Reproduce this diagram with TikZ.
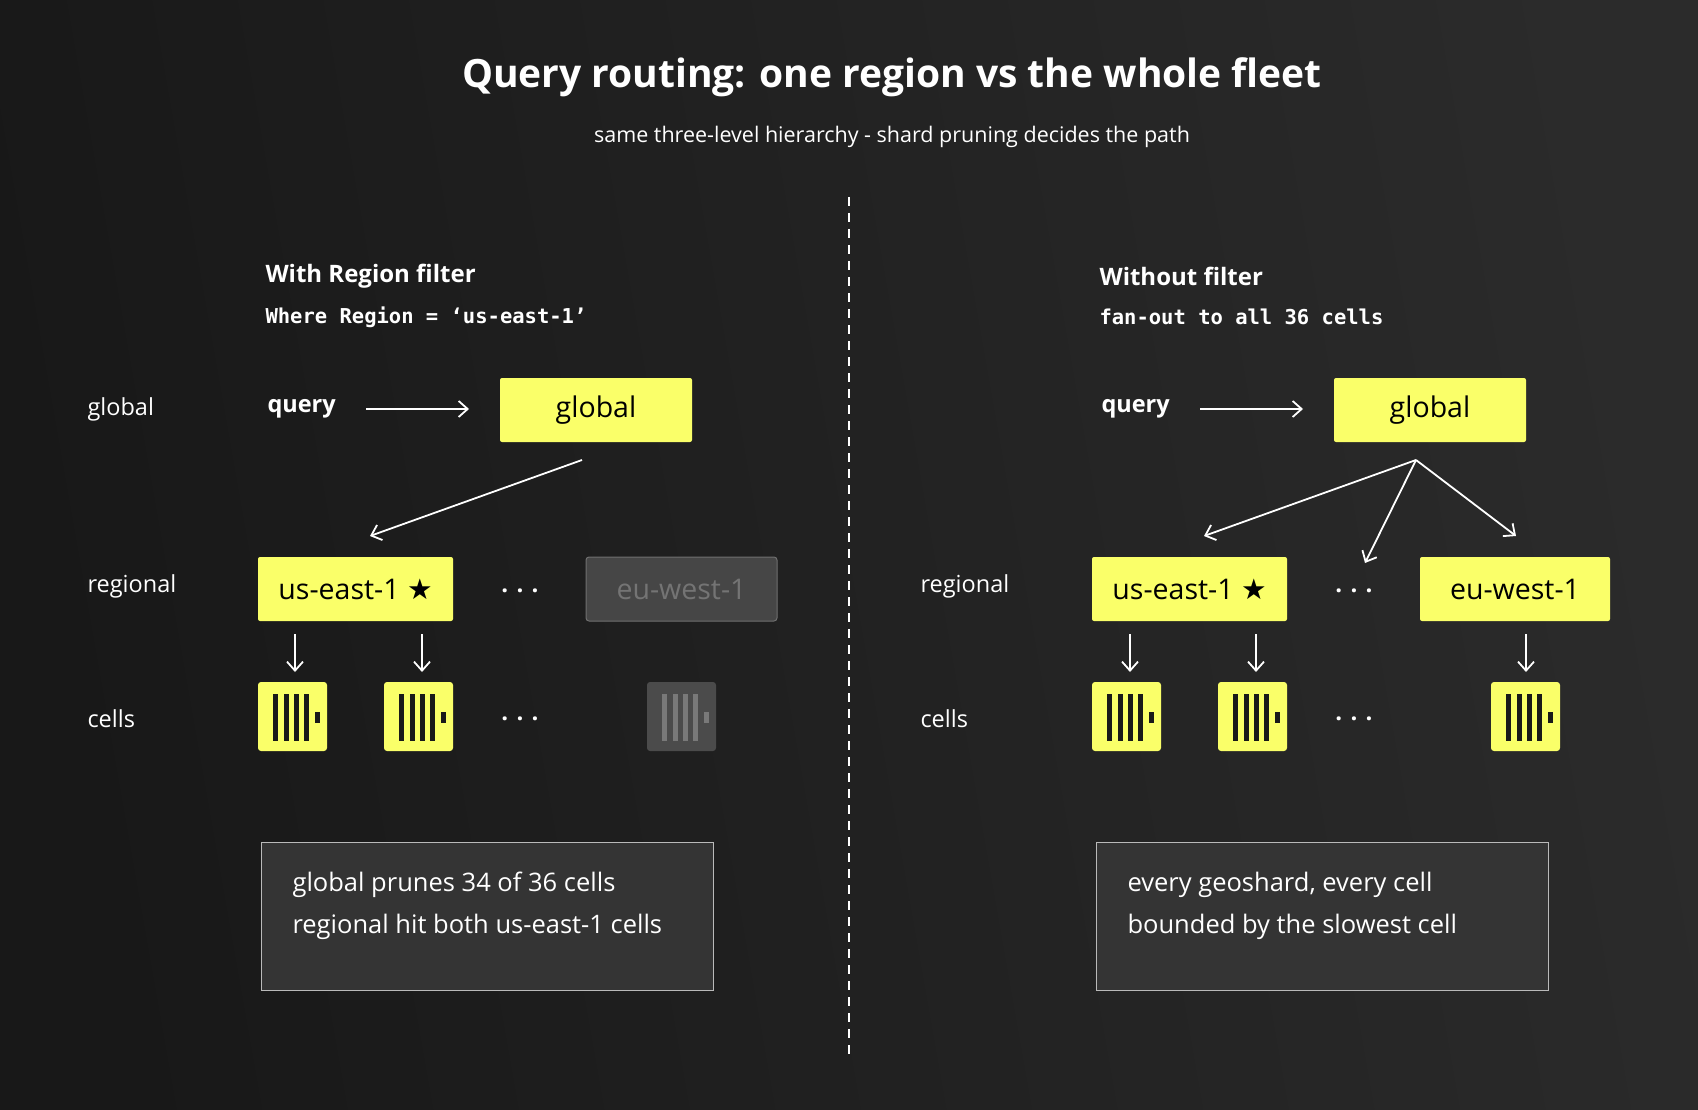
\documentclass[tikz,border=0pt]{standalone}
\usepackage{fontspec}
\setmainfont{Open Sans}
\setmonofont{DejaVu Sans Mono}
\usetikzlibrary{arrows.meta}
\definecolor{yel}{HTML}{FAFF69}
\definecolor{bgA}{HTML}{181818}
\definecolor{bgB}{HTML}{2B2B2B}
\begin{document}
\begin{tikzpicture}[x=1pt,y=-1pt,
  box/.style={fill=yel,rounded corners=2pt,inner sep=0pt,font=\fontsize{28.5}{30}\selectfont,text=black},
  gbox/.style={fill=white!20!bgA,draw=white!38!bgA,line width=1pt,rounded corners=3pt,inner sep=0pt,font=\fontsize{28.5}{30}\selectfont,text=white!40!bgA},
  lab/.style={anchor=west,text=white,font=\fontsize{23.5}{26}\selectfont},
  arr/.style={draw=white,line width=1.8pt,-{Straight Barb[length=9pt,width=16pt]}},
  dots/.style={text=white,font=\fontsize{24}{26}\selectfont\bfseries},
  info/.style={fill=white!12!bgA,draw=white!70!bgA,line width=1pt,minimum width=452pt,minimum height=148pt,anchor=north west},
  infot/.style={anchor=west,text=white,font=\fontsize{25.5}{26}\selectfont}]
\shade[left color=bgA,right color=bgB,shading angle=100] (0,0) rectangle (1698,1110);
\useasboundingbox (0,0) rectangle (1698,1110);
\newcommand\cellicon[3]{% x y color
  \fill[#3,rounded corners=3pt] (#1,#2) rectangle ++(69,69);
  \foreach \o in {15,26,36,46}{\fill[black!90] (#1+\o,#2+12) rectangle ++(5,47);}
  \fill[black!90] (#1+57,#2+30) rectangle ++(5,11);}
\node (title) at (892,77) [text=white,font=\fontsize{39}{44}\selectfont\bfseries] {Query routing: one region vs the whole fleet};
\node (sub) at (892,137) [text=white,font=\fontsize{21.5}{24}\selectfont] {same three-level hierarchy - shard pruning decides the path};
\coordinate (d1) at (849,197); \coordinate (d2) at (849,1058);
\draw[white,line width=2pt,dash pattern=on 9pt off 7pt] (d1) -- (d2);
% left
\node (hl) [lab,font=\fontsize{24}{26}\selectfont\bfseries] at (262,276) {With Region filter};
\node (ml) [lab,font=\fontsize{20.5}{24}\selectfont\ttfamily\bfseries] at (262,317) {Where Region = ‘us-east-1’};
\node (rg1) [lab] at (84,409) {global};
\node (rr1) [lab] at (84,586) {regional};
\node (rc1) [lab] at (84,719) {cells};
\node (q1) [lab,font=\fontsize{23.5}{26}\selectfont\bfseries] at (264,409) {query};
\node (g1) [box,minimum width=192pt,minimum height=64pt] at (596,410) {global};
\draw[arr] (366,409) -- (469,409);
\node (u1) [box,minimum width=195pt,minimum height=64pt] at (355.5,589) {us-east-1 \fontspec{DejaVu Sans}★};
\node (e1) [gbox,minimum width=191pt,minimum height=64pt] at (681.5,589) {eu-west-1};
\node (dt1) [dots] at (520,591) {. . .};
\node (dc1) [dots] at (520,719) {. . .};
\draw[arr] (582,460) -- (370,536);
\draw[arr] (295,634) -- (295,672);
\draw[arr] (422,634) -- (422,672);
\cellicon{258}{682}{yel}
\cellicon{384}{682}{yel}
\fill[white!22!bgA,rounded corners=3pt] (647,682) rectangle ++(69,69);
\foreach \o in {15,26,36,46}{\fill[white!42!bgA] (647+\o,694) rectangle ++(5,47);}
\fill[white!42!bgA] (704,712) rectangle ++(5,11);
\node (i1) [info] at (261,842) {};
\node (i1a) [infot] at (289,885) {global prunes 34 of 36 cells};
\node (i1b) [infot] at (289,927) {regional hit both us-east-1 cells};
% right
\node (hr) [lab,font=\fontsize{24}{26}\selectfont\bfseries] at (1096,276) {Without filter};
\node (mr) [lab,font=\fontsize{20.5}{24}\selectfont\ttfamily\bfseries] at (1096,317) {fan-out to all 36 cells};
\node (rr2) [lab] at (917,586) {regional};
\node (rc2) [lab] at (917,719) {cells};
\node (q2) [lab,font=\fontsize{23.5}{26}\selectfont\bfseries] at (1098,409) {query};
\node (g2) [box,minimum width=192pt,minimum height=64pt] at (1430,410) {global};
\draw[arr] (1200,409) -- (1303,409);
\node (u2) [box,minimum width=195pt,minimum height=64pt] at (1189.5,589) {us-east-1 \fontspec{DejaVu Sans}★};
\node (e2) [box,minimum width=190pt,minimum height=64pt] at (1515,589) {eu-west-1};
\node (dt2) [dots] at (1354,591) {. . .};
\node (dc2) [dots] at (1354,719) {. . .};
\coordinate (f) at (1416,460);
\draw[arr] (f) -- (1204,536);
\draw[arr] (f) -- (1365,563);
\draw[arr] (f) -- (1516,536);
\draw[arr] (1130,634) -- (1130,672);
\draw[arr] (1256,634) -- (1256,672);
\draw[arr] (1526,634) -- (1526,672);
\cellicon{1092}{682}{yel}
\cellicon{1218}{682}{yel}
\cellicon{1491}{682}{yel}
\node (i2) [info] at (1096,842) {};
\node (i2a) [infot] at (1124,885) {every geoshard, every cell};
\node (i2b) [infot] at (1124,927) {bounded by the slowest cell};
\end{tikzpicture}
\end{document}
